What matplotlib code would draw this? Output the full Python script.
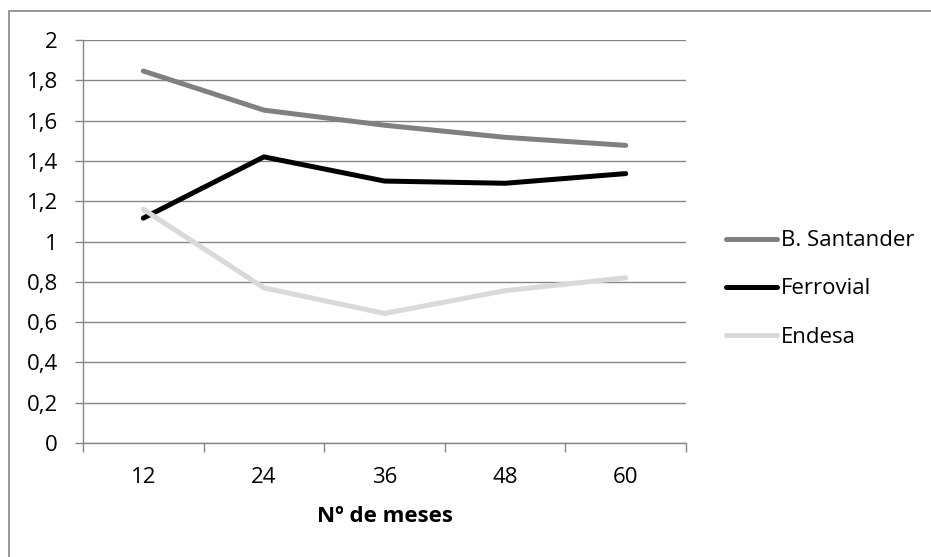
import matplotlib.pyplot as plt
from matplotlib.patches import Rectangle
from matplotlib.ticker import FuncFormatter, FixedLocator

# Data
meses = ['12', '24', '36', '48', '60']
santander = [1.846, 1.652, 1.577, 1.517, 1.477]
ferrovial = [1.116, 1.420, 1.300, 1.289, 1.337]
endesa = [1.160, 0.770, 0.643, 0.756, 0.820]

plt.rcParams['font.family'] = ['Open Sans', 'DejaVu Sans']
gris = '#868686'
fs = 16

fig = plt.figure(figsize=(9.31, 5.57), dpi=100)
ax = fig.add_axes([83 / 931, 1 - 443 / 557, 603 / 931, 403 / 557])

# outer chart border (cropped at right and bottom like the reference)
fig.patches.append(Rectangle((9 / 931, -0.1), 1.2, 1 - 11 / 557 + 0.1,
                             transform=fig.transFigure, fill=False,
                             edgecolor=gris, linewidth=1.2))

x = range(len(meses))
ax.plot(x, santander, color='#808080', linewidth=3.6, solid_capstyle='round',
        solid_joinstyle='round', label='B. Santander')
ax.plot(x, ferrovial, color='#000000', linewidth=3.6, solid_capstyle='round',
        solid_joinstyle='round', label='Ferrovial')
ax.plot(x, endesa, color='#d9d9d9', linewidth=3.6, solid_capstyle='round',
        solid_joinstyle='round', label='Endesa')

ax.set_xlim(-0.5, len(meses) - 0.5)
ax.set_ylim(0, 2)
ax.set_yticks([i * 0.2 for i in range(11)])
ax.yaxis.set_major_formatter(FuncFormatter(
    lambda v, p: ('%g' % round(v, 1)).replace('.', ',')))
ax.set_xticks(list(x))
ax.set_xticklabels(meses)
ax.xaxis.set_minor_locator(FixedLocator([i - 0.5 for i in range(len(meses) + 1)]))

ax.grid(axis='y', color=gris, linewidth=1.0)
ax.set_axisbelow(True)
for s in ['top', 'right']:
    ax.spines[s].set_visible(False)
for s in ['left', 'bottom']:
    ax.spines[s].set_color(gris)
    ax.spines[s].set_linewidth(1.0)

ax.tick_params(axis='y', length=6, width=1, color=gris, pad=12,
               labelsize=fs, labelcolor='black')
ax.tick_params(axis='x', which='major', length=0, pad=17,
               labelsize=fs, labelcolor='black')
ax.tick_params(axis='x', which='minor', length=6.5, width=1, color=gris)

fig.text(385 / 931, 1 - 516 / 557, 'Nº de meses', ha='center', va='center',
         fontsize=fs, fontweight='bold')

ax.legend(loc='center left', bbox_to_anchor=(726 / 931, 1 - 289 / 557),
          bbox_transform=fig.transFigure, frameon=False, fontsize=fs,
          handlelength=2.3, handletextpad=0.18, borderpad=0, borderaxespad=0,
          labelspacing=1.22)

fig.savefig('out.png', dpi=100)
